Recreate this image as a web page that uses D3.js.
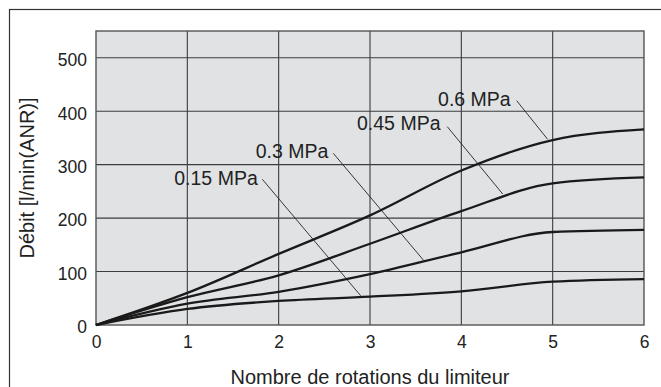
<!DOCTYPE html>
<html>
<head>
<meta charset="utf-8">
<script src="https://cdn.jsdelivr.net/npm/d3@7"></script>
<style>
  body { margin: 0; background: #fff; }
  text { font-family: "Liberation Sans", Arial, sans-serif; fill: #222; }
</style>
</head>
<body>
<div id="chart"></div>
<script>
// rotations of the limiter (x) and flow for each supply pressure
var rotations = [0, 1, 2, 3, 4, 5, 6];
var flow060 = [0, 60, 133, 205, 289, 346, 366];
var flow045 = [0, 52, 93, 152, 213, 265, 276];
var flow030 = [0, 40, 62, 95, 136, 174, 178];
var flow015 = [0, 30, 45, 53, 63, 81, 86];

var xTicks = [0, 1, 2, 3, 4, 5, 6];
var yTicks = [0, 100, 200, 300, 400, 500];

// labels: text, anchor (x, y) and leader line from (x1, y1) to (x2, y2), all in data units
var labelNames = ["0.6 MPa", "0.45 MPa", "0.3 MPa", "0.15 MPa"];
var labelAt = [[3.745, 409.7], [2.858, 364.8], [1.749, 312.4], [0.857, 261.9]];
var leaderFrom = [[4.606, 419.6], [3.846, 371], [2.598, 321.2], [1.821, 272.6]];
var leaderTo = [[4.945, 347.4], [4.453, 245.1], [3.584, 121.6], [2.898, 54.8]];

var series = [flow060, flow045, flow030, flow015];

var W = 661, H = 387;
var margin = {top: 31, right: 17, bottom: 62, left: 96};
var width = W - margin.left - margin.right;
var height = H - margin.top - margin.bottom;

var svg = d3.select("#chart")
    .append("svg")
    .attr("width", W)
    .attr("height", H);

// outer frame (runs off the right and bottom edges)
svg.append("rect")
    .attr("x", 9.5)
    .attr("y", 9.5)
    .attr("width", 700)
    .attr("height", 420)
    .attr("fill", "none")
    .attr("stroke", "#333")
    .attr("stroke-width", 1.2);

var g = svg.append("g")
    .attr("transform", "translate(" + margin.left + "," + margin.top + ")");

var x = d3.scaleLinear().domain([0, 6]).range([0, width]);
var y = d3.scaleLinear().domain([0, 550]).range([height, 0]);

// plot background
g.append("rect")
    .attr("width", width)
    .attr("height", height)
    .attr("fill", "#e1e2e4");

// grid
g.append("g")
    .selectAll("line")
    .data(xTicks.slice(1, -1))
    .enter()
    .append("line")
    .attr("x1", d => x(d)).attr("x2", d => x(d))
    .attr("y1", 0).attr("y2", height)
    .attr("stroke", "#3c3c3c")
    .attr("stroke-width", 1.1);

g.append("g")
    .selectAll("line")
    .data(yTicks.slice(1))
    .enter()
    .append("line")
    .attr("y1", d => y(d)).attr("y2", d => y(d))
    .attr("x1", 0).attr("x2", width)
    .attr("stroke", "#3c3c3c")
    .attr("stroke-width", 1.1);

g.append("rect")
    .attr("width", width)
    .attr("height", height)
    .attr("fill", "none")
    .attr("stroke", "#555")
    .attr("stroke-width", 1.4);

// curves
var line = d3.line()
    .x((d, i) => x(rotations[i]))
    .y(d => y(d))
    .curve(d3.curveMonotoneX);

g.append("g")
    .selectAll("path")
    .data(series)
    .enter()
    .append("path")
    .attr("d", line)
    .attr("fill", "none")
    .attr("stroke", "#1a1a1a")
    .attr("stroke-width", 2.3);

// leader lines and labels
g.append("g")
    .selectAll("line")
    .data(labelNames)
    .enter()
    .append("line")
    .attr("x1", (d, i) => x(leaderFrom[i][0]))
    .attr("y1", (d, i) => y(leaderFrom[i][1]))
    .attr("x2", (d, i) => x(leaderTo[i][0]))
    .attr("y2", (d, i) => y(leaderTo[i][1]))
    .attr("stroke", "#222")
    .attr("stroke-width", 0.9);

g.append("g")
    .selectAll("text")
    .data(labelNames)
    .enter()
    .append("text")
    .attr("x", (d, i) => x(labelAt[i][0]))
    .attr("y", (d, i) => y(labelAt[i][1]))
    .attr("font-size", 19.5)
    .text(d => d);

// axes (text only, no tick marks)
var xAxis = g.append("g")
    .attr("transform", "translate(0," + height + ")")
    .call(d3.axisBottom(x).tickValues(xTicks).tickSize(0).tickPadding(11).tickFormat(d3.format("d")));
xAxis.select(".domain").remove();
xAxis.selectAll("text").attr("font-size", 17.5).attr("font-family", "Liberation Sans, Arial, sans-serif").attr("fill", "#222");

var yAxis = g.append("g")
    .call(d3.axisLeft(y).tickValues(yTicks).tickSize(0).tickPadding(9).tickFormat(d3.format("d")));
yAxis.select(".domain").remove();
yAxis.selectAll("text").attr("font-size", 17.5).attr("font-family", "Liberation Sans, Arial, sans-serif").attr("fill", "#222").attr("dy", "0.45em");

// axis titles
svg.append("text")
    .attr("x", margin.left + width / 2)
    .attr("y", 384)
    .attr("text-anchor", "middle")
    .attr("font-size", 20)
    .text("Nombre de rotations du limiteur");

svg.append("text")
    .attr("transform", "translate(34," + (margin.top + height / 2) + ") rotate(-90)")
    .attr("text-anchor", "middle")
    .attr("font-size", 20)
    .text("Débit [l/min(ANR)]");
</script>
</body>
</html>
